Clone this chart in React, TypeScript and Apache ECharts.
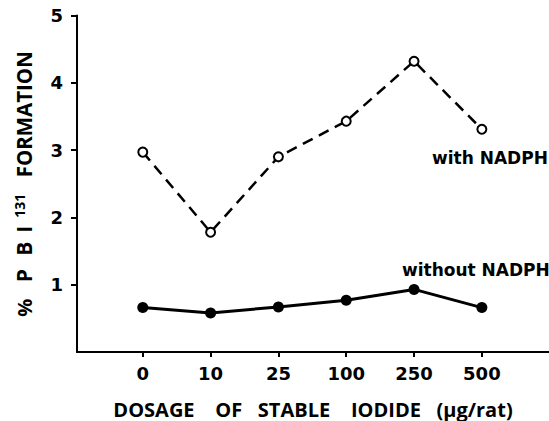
import React, { useEffect, useRef } from "react";
import * as echarts from "echarts";

const categories = ["0", "10", "25", "100", "250", "500"];
const withNADPH = [2.97, 1.78, 2.9, 3.43, 4.32, 3.31];
const withoutNADPH = [0.66, 0.58, 0.67, 0.77, 0.93, 0.66];
const yTicks = [1, 2, 3, 4, 5];

const FONT = "'DejaVu Sans', sans-serif";
const TFONT = "'Open Sans', 'DejaVu Sans', sans-serif";

export default function App() {
  const ref = useRef<HTMLDivElement>(null);
  useEffect(() => {
    const chart = echarts.init(ref.current!, null, { renderer: "svg" });
    const idx = categories.map((_, i) => i);
    const base = { color: "#000", fontFamily: TFONT, fontWeight: "bold", fontSize: 20, lineHeight: 24, align: "center" };
    chart.setOption({
      animation: false,
      backgroundColor: "#fff",
      grid: { left: 77, right: 0, top: 15.5, bottom: 69, outerBoundsMode: "none", containLabel: false },
      xAxis: {
        type: "value",
        min: -0.97,
        max: 5.99,
        splitLine: { show: false },
        axisLine: { show: true, onZero: false, lineStyle: { color: "#000", width: 2 } },
        axisTick: { show: true, customValues: idx, length: 5, lineStyle: { color: "#000", width: 2 } },
        axisLabel: {
          customValues: idx,
          formatter: (v: number) => categories[Math.round(v)] ?? "",
          color: "#000",
          fontFamily: FONT,
          fontWeight: "bold",
          fontSize: 18,
          margin: 12,
        },
        name: "DOSAGE    OF   STABLE    IODIDE   (\u03bcg/rat)",
        nameLocation: "middle",
        nameGap: 46,
        nameTextStyle: { color: "#000", fontFamily: TFONT, fontWeight: "bold", fontSize: 20, lineHeight: 22 },
      },
      yAxis: {
        type: "value",
        min: 0,
        max: 5,
        interval: 1,
        splitLine: { show: false },
        axisLine: { show: true, onZero: false, lineStyle: { color: "#000", width: 2 } },
        axisTick: { show: true, customValues: yTicks, length: 6, lineStyle: { color: "#000", width: 2 } },
        axisLabel: {
          customValues: yTicks,
          color: "#000",
          fontFamily: FONT,
          fontWeight: "bold",
          fontSize: 18,
          margin: 14,
        },
        name: "{pc|%}{g11| }{l20|P}{g7| }{l20|B}{g3| }{l13|I}{g4| }{s|131}{g27| }{f|FORMATION}{g14| }",
        nameLocation: "middle",
        nameRotate: 90,
        nameGap: 41,
        nameTextStyle: {
          rich: {
            pc: { ...base, width: 22 },
            l20: { ...base, fontSize: 21, width: 20 },
            l13: { ...base, fontSize: 21, width: 13 },
            g3: { ...base, width: 3 },
            g4: { ...base, width: 4 },
            g7: { ...base, width: 7 },
            g11: { ...base, width: 11 },
            g14: { ...base, width: 14 },
            g27: { ...base, width: 27 },
            s: { ...base, fontSize: 14, width: 26, padding: [0, 0, 10, 0] },
            f: { ...base, fontSize: 20.5, width: 103 },
          },
        },
      },
      series: [
        {
          type: "line",
          data: withNADPH.map((v, i) => [i, v]),
          symbol: "circle",
          symbolSize: 9,
          itemStyle: { color: "#fff", borderColor: "#000", borderWidth: 2 },
          lineStyle: { color: "#000", width: 2.5, type: [11, 7] },
        },
        {
          type: "line",
          data: withoutNADPH.map((v, i) => [i, v]),
          symbol: "circle",
          symbolSize: 11,
          itemStyle: { color: "#000", borderColor: "#000", borderWidth: 0 },
          lineStyle: { color: "#000", width: 3 },
        },
      ],
      graphic: [
        {
          type: "text",
          x: 432,
          y: 158,
          style: { text: "with NADPH", fill: "#000", font: `bold 17px ${FONT}`, align: "left", verticalAlign: "middle" },
        },
        {
          type: "text",
          x: 402,
          y: 270,
          style: { text: "without NADPH", fill: "#000", font: `bold 17px ${FONT}`, align: "left", verticalAlign: "middle" },
        },
      ],
    });
    return () => chart.dispose();
  }, []);
  return <div ref={ref} style={{ width: 549, height: 421, position: "absolute", left: 0, top: 0 }} />;
}
